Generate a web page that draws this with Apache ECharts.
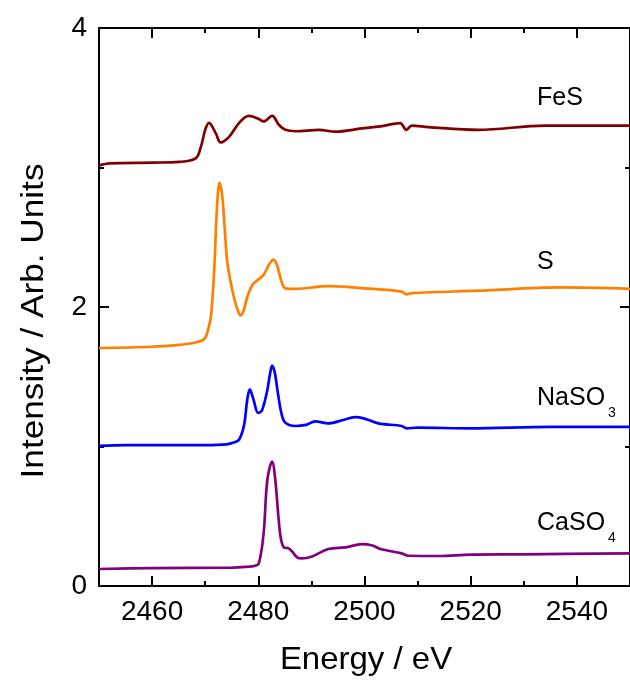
<!DOCTYPE html>
<html>
<head>
<meta charset="utf-8">
<script src="https://cdn.jsdelivr.net/npm/echarts@6/dist/echarts.min.js"></script>
<style>html,body{margin:0;padding:0;background:#fff;}#c{width:630px;height:684px;}</style>
</head>
<body>
<div id="c"></div>
<script>
// Energy (eV), intensity (arb. units) pairs
const fesX = [2450,2452,2460,2465.1,2468.2,2469.2,2470,2470.7,2472,2472.9,2474.5,2476.4,2478.2,2480,2481,2482.6,2483.9,2485.1,2487,2491.4,2494.5,2499.5,2503,2506.7,2507.9,2508.9,2512,2521.4,2534,2550];
const fesY = [3.015,3.03,3.035,3.04,3.065,3.15,3.27,3.32,3.245,3.18,3.22,3.32,3.37,3.35,3.33,3.37,3.305,3.27,3.26,3.27,3.257,3.28,3.295,3.318,3.27,3.30,3.29,3.27,3.30,3.30];

const sX = [2450,2460,2465,2467.5,2469.8,2470.5,2471.1,2471.7,2472.2,2472.7,2473.2,2473.7,2474.2,2475.4,2476.2,2476.7,2477.3,2477.9,2478.9,2479.8,2481,2482.1,2482.9,2483.6,2484.4,2485.1,2487,2493.2,2500,2507,2507.9,2508.9,2521.4,2537,2550];
const sY = [1.706,1.715,1.728,1.74,1.77,1.83,1.94,2.27,2.70,2.89,2.80,2.55,2.31,2.07,1.97,1.94,1.98,2.07,2.16,2.19,2.23,2.31,2.34,2.29,2.18,2.134,2.13,2.15,2.134,2.11,2.09,2.10,2.117,2.14,2.13];

const nasX = [2450,2455,2470,2474,2475.5,2476.4,2477.3,2477.9,2478.4,2479,2480,2480.7,2481.7,2482.2,2482.6,2483.1,2483.7,2484.4,2485.1,2487,2489,2490.7,2493.2,2496,2498.2,2500,2502.6,2507,2507.9,2510,2520,2535,2550];
const nasY = [1.005,1.01,1.01,1.015,1.03,1.05,1.15,1.33,1.41,1.35,1.24,1.26,1.405,1.52,1.58,1.53,1.38,1.23,1.17,1.147,1.155,1.18,1.166,1.19,1.21,1.20,1.166,1.147,1.13,1.135,1.13,1.14,1.14];

const casX = [2450,2460,2475,2478,2479.2,2480.1,2481,2481.7,2482.6,2483.2,2484.1,2484.8,2485.7,2486.4,2487.3,2488.2,2490,2493.2,2496.4,2499.5,2501.5,2503.2,2507,2508.2,2514,2520,2530,2550];
const casY = [0.122,0.128,0.132,0.138,0.143,0.163,0.378,0.76,0.891,0.76,0.378,0.277,0.27,0.246,0.205,0.198,0.21,0.265,0.277,0.30,0.29,0.263,0.234,0.217,0.215,0.225,0.227,0.234];

const xMajor = [2460,2480,2500,2520,2540];
const xMinor = [2470,2490,2510,2530];

function pairs(xs, ys){ return xs.map((x,i)=>[x, ys[i]]); }

const FONT = 'Liberation Sans, Arial, sans-serif';
const chart = echarts.init(document.getElementById('c'), null, {renderer:'canvas'});

const axisLineStyle = {color:'#000', width:2};
function xAx(pos, ticks, len, line, labels){
  return {
    type:'value', position:pos, min:2450, max:2550, interval:10,
    axisLine:{show:line, onZero:false, lineStyle:axisLineStyle},
    axisTick:{show:true, inside:true, length:len, customValues:ticks, lineStyle:axisLineStyle},
    axisLabel:{show:labels, customValues:ticks, formatter:(v)=>String(v), color:'#000', fontFamily:FONT, fontSize:28, margin:12},
    splitLine:{show:false}
  };
}
function yAx(pos, labels){
  return {
    type:'value', position:pos, min:0, max:4, interval:2,
    axisLine:{show:true, onZero:false, lineStyle:axisLineStyle},
    axisTick:{show:true, inside:true, length:10, lineStyle:axisLineStyle},
    minorTick:{show:true, splitNumber:2, length:5, lineStyle:axisLineStyle},
    axisLabel:{show:labels, color:'#000', fontFamily:FONT, fontSize:28, margin:12},
    splitLine:{show:false}, minorSplitLine:{show:false}
  };
}
function line(name, xs, ys, color){
  return {name, type:'line', xAxisIndex:0, yAxisIndex:0, data:pairs(xs,ys), showSymbol:false,
    smooth:0.35, lineStyle:{color, width:2.7}, itemStyle:{color}, animation:false, silent:true};
}

chart.setOption({
  animation:false,
  grid:{left:99, right:-2, top:28, bottom:98, containLabel:false},
  xAxis:[
    xAx('bottom', xMajor, 10, true, true),
    xAx('bottom', xMinor, 5, false, false),
    xAx('top', xMajor, 10, true, false),
    xAx('top', xMinor, 5, false, false)
  ],
  yAxis:[yAx('left', true), yAx('right', false)],
  series:[
    line('FeS', fesX, fesY, '#800000'),
    line('S', sX, sY, '#FF8000'),
    line('NaSO3', nasX, nasY, '#0000FF'),
    line('CaSO4', casX, casY, '#800080')
  ],
  graphic:[
    {type:'text', x:366, y:660, scaleX:1.03, style:{text:'Energy / eV', fill:'#000', font:'32px '+FONT, textAlign:'center', textVerticalAlign:'middle'}},
    {type:'text', x:34, y:321, rotation:Math.PI/2, scaleX:1.1, style:{text:'Intensity / Arb. Units', fill:'#000', font:'32px '+FONT, textAlign:'center', textVerticalAlign:'middle'}},
    {type:'text', x:537, y:98, style:{text:'FeS', fill:'#000', font:'25px '+FONT, textVerticalAlign:'middle'}},
    {type:'text', x:537, y:262, style:{text:'S', fill:'#000', font:'25px '+FONT, textVerticalAlign:'middle'}},
    {type:'text', x:537, y:398, style:{text:'NaSO', fill:'#000', font:'25px '+FONT, textVerticalAlign:'middle'}},
    {type:'text', x:608, y:413, style:{text:'3', fill:'#000', font:'14px '+FONT, textVerticalAlign:'middle'}},
    {type:'text', x:537, y:523, style:{text:'CaSO', fill:'#000', font:'25px '+FONT, textVerticalAlign:'middle'}},
    {type:'text', x:608, y:538, style:{text:'4', fill:'#000', font:'14px '+FONT, textVerticalAlign:'middle'}}
  ]
});
</script>
</body>
</html>
